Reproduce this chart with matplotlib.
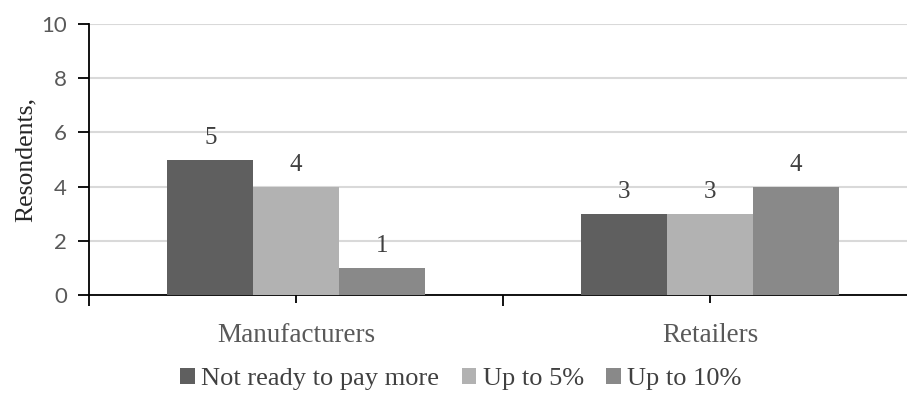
import numpy as np
import matplotlib.pyplot as plt
from matplotlib.ticker import FixedLocator

categories = ["Manufacturers", "Retailers"]
series_names = ["Not ready to pay more", "Up to 5%", "Up to 10%"]
not_ready = [5, 3]
up_to_5 = [4, 3]
up_to_10 = [1, 4]
colors = ["#5f5f5f", "#b2b2b2", "#898989"]

serif = "Liberation Serif"
sans = "Lato"

fig = plt.figure(figsize=(9.07, 3.94), dpi=100)
# axis runs a little past the right edge of the figure
ax = fig.add_axes([89 / 907, 99 / 394, 828 / 907, 271 / 394])

x = np.arange(len(categories))
w = 0.207
for i, (vals, name, c) in enumerate(zip([not_ready, up_to_5, up_to_10], series_names, colors)):
    pos = x + (i - 1) * w
    ax.bar(pos, vals, width=w, color=c, label=name, zorder=3)
    for xb, v in zip(pos, vals):
        ax.text(xb, v + 0.4, str(v), ha="center", va="bottom",
                fontsize=18, family=serif, color="#404040")

ax.set_xlim(-0.5, 1.5)
ax.set_ylim(0, 10)
ax.set_yticks(range(0, 11, 2))
ax.yaxis.grid(True, color="#d9d9d9", linewidth=1.5, zorder=0)
ax.set_axisbelow(True)

for s in ["top", "right"]:
    ax.spines[s].set_visible(False)
for s in ["left", "bottom"]:
    ax.spines[s].set_linewidth(1.3)
    ax.spines[s].set_color("black")

ax.tick_params(axis="y", direction="out", length=8, width=1.3, labelsize=16,
               labelcolor="#595959", pad=8)
for lab in ax.get_yticklabels():
    lab.set_family(sans)

ax.set_xticks(x)
ax.set_xticklabels(categories, family=serif, fontsize=19.5, color="#595959")
ax.tick_params(axis="x", which="major", direction="inout", length=12, width=1.3, pad=14)
ax.xaxis.set_minor_locator(FixedLocator([-0.5, 0.5, 1.5]))
ax.tick_params(axis="x", which="minor", direction="out", length=8, width=1.3)

ax.set_ylabel("Resondents,", family=serif, fontsize=18.5, color="#262626", labelpad=3)

fig.legend(loc="center", bbox_to_anchor=(461 / 907, 1 - 379 / 394), ncol=3, frameon=False,
           prop={"family": serif, "size": 19}, handlelength=0.55, handleheight=0.55,
           handletextpad=0.25, columnspacing=0.85, labelcolor="#404040")

fig.savefig("out.png", dpi=100)
